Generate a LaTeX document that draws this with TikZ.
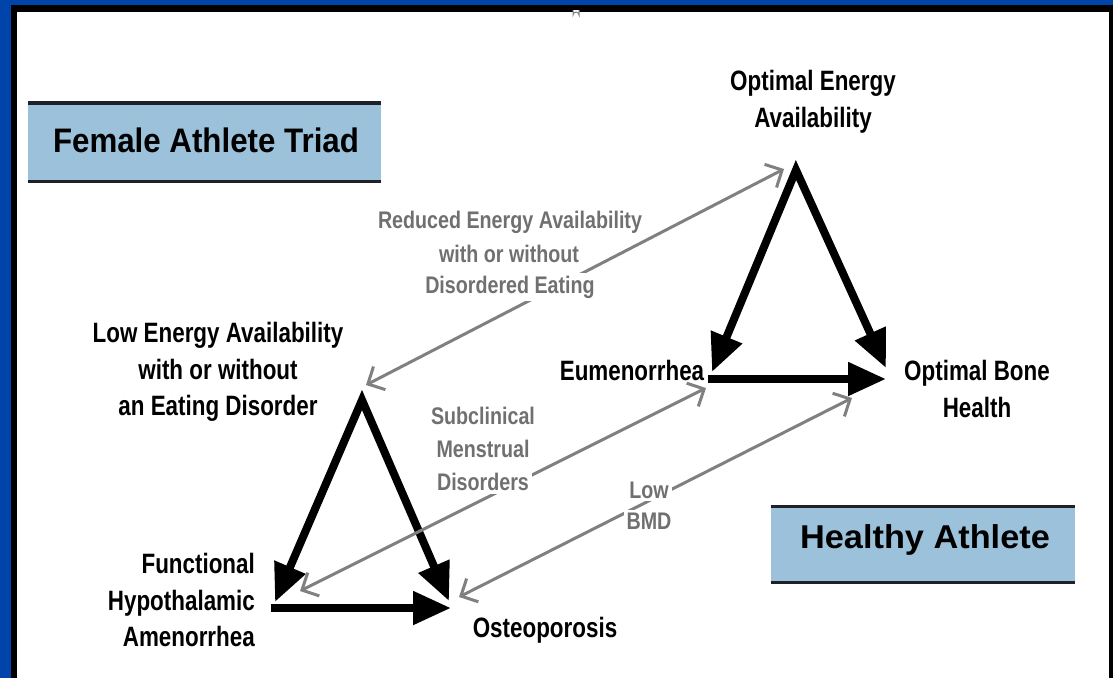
\documentclass[tikz,border=0pt]{standalone}
\usepackage{fontspec}
\usetikzlibrary{arrows.meta,calc}
% condensed bold sans for labels, slightly wider cuts for the banners
\newfontfamily\lblfont[FakeStretch=0.8]{Liberation Sans}
\newfontfamily\notefont[FakeStretch=0.82]{Liberation Sans}
\newfontfamily\triadfont[FakeStretch=0.92]{Liberation Sans}
\newfontfamily\healthyfont[FakeStretch=1.04]{Liberation Sans}
\definecolor{frameblue}{RGB}{0,68,170}
\definecolor{bannerblue}{RGB}{155,194,218}
\definecolor{bannerline}{RGB}{30,34,40}
\definecolor{notegray}{RGB}{112,112,112}
\definecolor{linkgray}{RGB}{128,128,128}
\begin{document}
\begin{tikzpicture}[x=1pt,y=-1pt,
  lbl/.style={font=\lblfont\bfseries\fontsize{28}{36.5}\selectfont, align=center, inner sep=0pt},
  note/.style={font=\notefont\bfseries\fontsize{24}{32}\selectfont, text=notegray, fill=white, inner sep=3pt},
  triad/.style={line width=8pt, line cap=butt, miter limit=10},
  bigtip/.style={-{Triangle[length=38pt,width=32pt]}},
  twotip/.style={{Triangle[length=38pt,width=32pt]}-{Triangle[length=38pt,width=32pt]}},
  link/.style={draw=linkgray, line width=3pt,
    {Straight Barb[length=13pt,width=26pt]}-{Straight Barb[length=13pt,width=26pt]}},
  banner/.style={fill=bannerblue, inner sep=0pt},
  gapline/.style={white, line width=2pt}]

% frame: blue band, dark rule, white sheet
\useasboundingbox (0,0) rectangle (1113,678);
\fill[frameblue] (0,0) rectangle (1113,678);
\fill[black] (11,5) rectangle (1113,678);
\fill[white] (17,12) rectangle (1109,678);
\draw[linkgray, line width=1pt, fill=white] (573,10) -- (573,15) arc[start angle=180, end angle=360, radius=3] -- (579,10);

% banners
\node[banner, minimum width=353pt, minimum height=78pt] (triadbox) at (204.5,142) {};
\draw[bannerline, line width=4pt] (triadbox.north west) -- (triadbox.north east);
\draw[bannerline, line width=3pt] (triadbox.south west) -- (triadbox.south east);
\node[font=\triadfont\bfseries\fontsize{34}{40}\selectfont, inner sep=0pt] (triadtitle) at (206,140) {Female Athlete Triad};

\node[banner, minimum width=304pt, minimum height=75pt] (healthybox) at (923,544.5) {};
\draw[bannerline, line width=3pt] (healthybox.north west) -- (healthybox.north east);
\draw[bannerline, line width=3pt] (healthybox.south west) -- (healthybox.south east);
\node[font=\healthyfont\bfseries\fontsize{33}{40}\selectfont, inner sep=0pt] (healthytitle) at (925,540) {Healthy Athlete};

% corners of the two triangles
\coordinate (hApex) at (796,170);
\coordinate (hLeft) at (712,372);
\coordinate (hRight) at (886,368);
\coordinate (hBase) at (708,379);
\coordinate (hBaseEnd) at (886,379);

\coordinate (tApex) at (362,400);
\coordinate (tLeft) at (275,602);
\coordinate (tRight) at (449,601);
\coordinate (tBase) at (271,608);
\coordinate (tBaseEnd) at (451,608);

% healthy athlete triangle
\draw[triad, twotip] (hLeft) -- (hApex) -- (hRight);
\draw[triad, bigtip] (hBase) -- (hBaseEnd);
\draw[gapline] ($(hBaseEnd)+(-28,-22)$) -- ($(hBaseEnd)+(-2,-4)$);

% triad triangle
\draw[triad, twotip] (tLeft) -- (tApex) -- (tRight);
\draw[triad, bigtip] (tBase) -- (tBaseEnd);
\draw[gapline] ($(tBaseEnd)+(-29,-21)$) -- ($(tBaseEnd)+(-3,-5)$);

% spectrum links between the two triangles
\coordinate (l1a) at (366,385);
\coordinate (l1b) at (784,169);
\coordinate (l2a) at (300,591);
\coordinate (l2b) at (706,388);
\coordinate (l3a) at (459,597);
\coordinate (l3b) at (852,398);
\draw[link] (l1a) -- (l1b);
\draw[link] (l2a) -- (l2b);
\draw[link] (l3a) -- (l3b);

% spectrum notes
\node[note] (red1) at (510,222) {Reduced Energy Availability};
\node[note] (red2) at (509,254) {with or without};
\node[note] (red3) at (510,287) {Disordered Eating};
\node[note] (sub1) at (483,416) {Subclinical};
\node[note] (sub2) at (483,449) {Menstrual};
\node[note] (sub3) at (483,482) {Disorders};
\node[note] (bmd1) at (649,490) {Low};
\node[note] (bmd2) at (649,521) {BMD};

% endpoint labels
\node[lbl] (optEnergy) at (813,102) {Optimal Energy\\Availability};
\node[lbl] (lowEnergy) at (218,372) {Low Energy Availability\\with or without\\an Eating Disorder};
\node[lbl] (eumen) at (632,370) {Eumenorrhea};
\node[lbl] (optBone) at (977,389) {Optimal Bone\\Health};
\node[lbl, align=right, anchor=east] (fha) at (255,600) {Functional\\Hypothalamic\\Amenorrhea};
\node[lbl] (osteo) at (545,630) {Osteoporosis};
\end{tikzpicture}
\end{document}
